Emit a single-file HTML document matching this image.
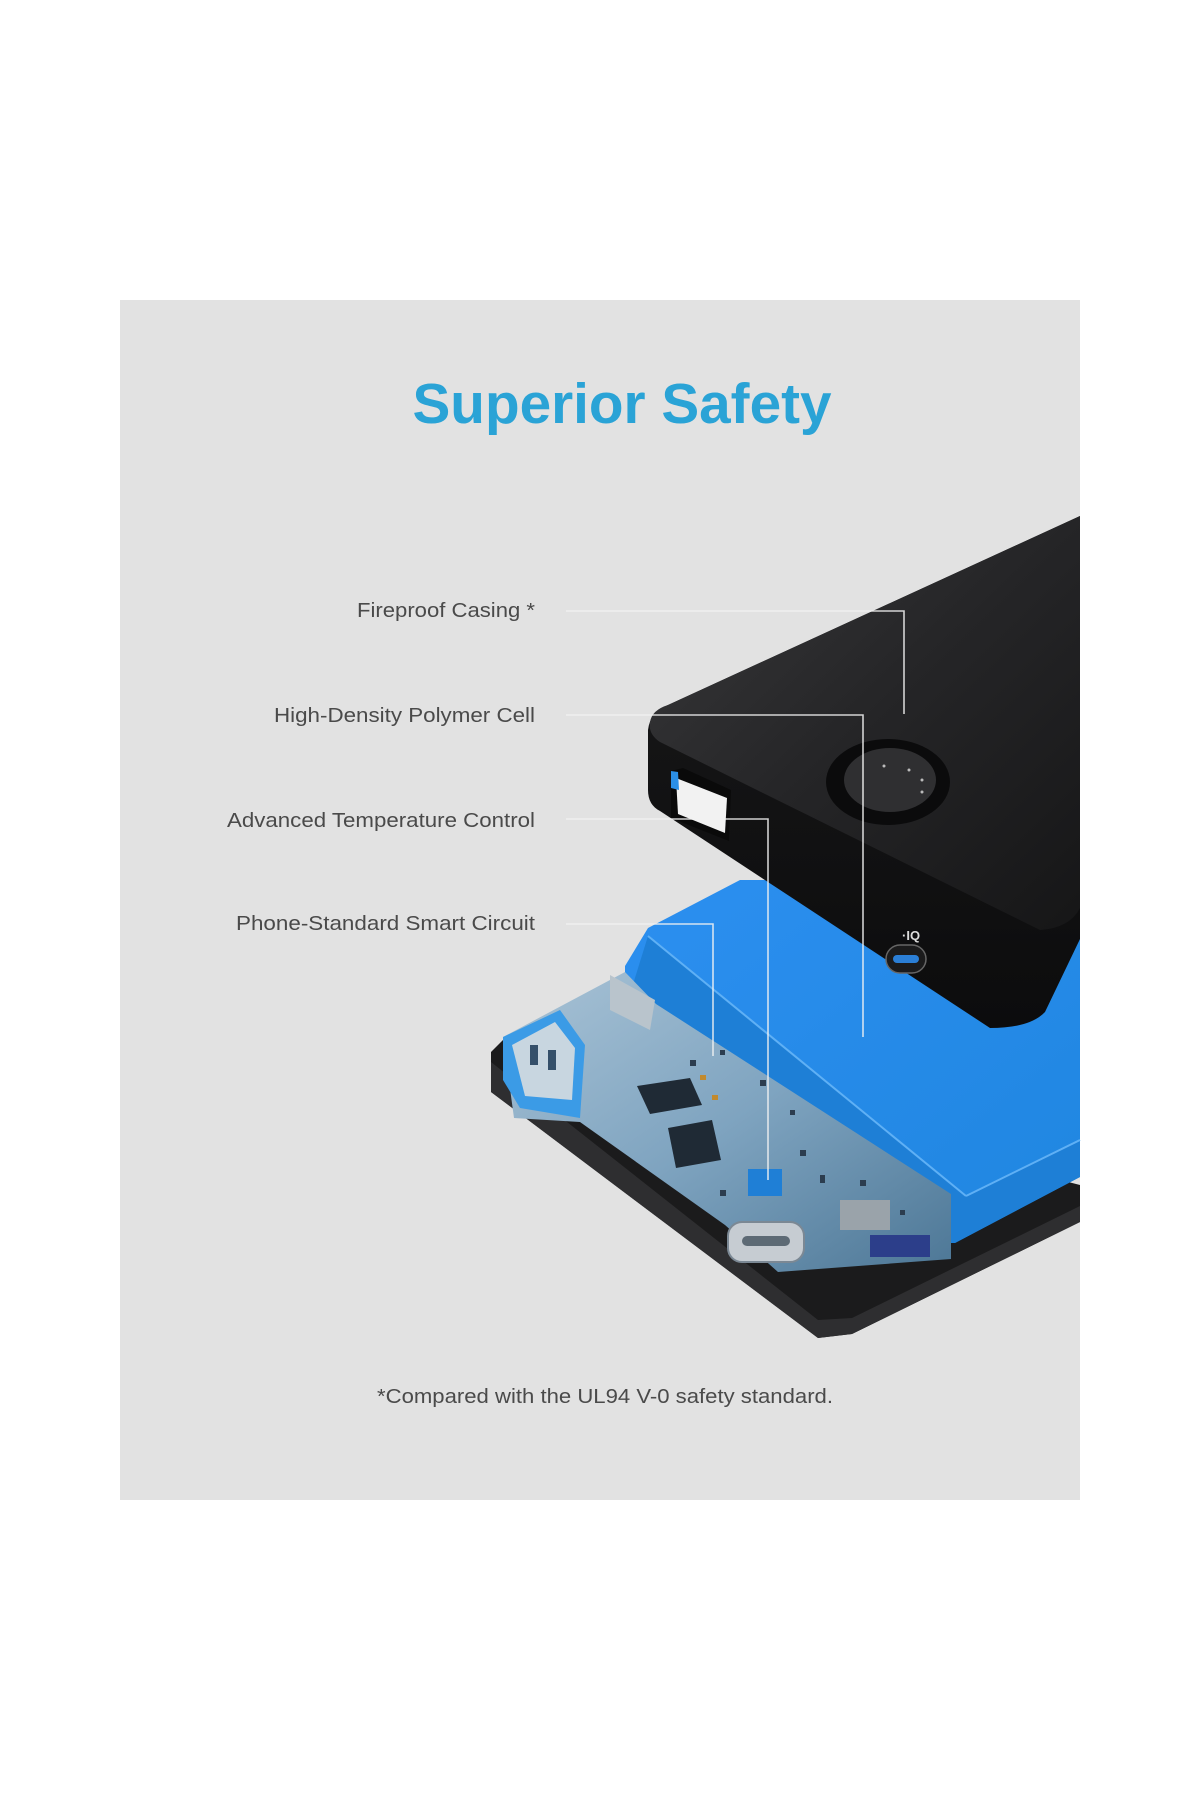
<!DOCTYPE html>
<html><head><meta charset="utf-8"><style>
html,body{margin:0;padding:0;background:#fff;width:1200px;height:1800px;overflow:hidden}
svg{display:block}
</style></head><body>
<svg width="1200" height="1800" viewBox="0 0 1200 1800" xmlns="http://www.w3.org/2000/svg">
<defs>
<linearGradient id="caseTop" x1="0" y1="0" x2="1" y2="1">
<stop offset="0" stop-color="#3a3a3c"/><stop offset="0.5" stop-color="#252527"/><stop offset="1" stop-color="#161617"/>
</linearGradient>
<linearGradient id="caseFront" x1="0" y1="0" x2="0" y2="1">
<stop offset="0" stop-color="#1a1a1b"/><stop offset="1" stop-color="#0c0c0d"/>
</linearGradient>
<linearGradient id="blueTop" x1="0" y1="0" x2="1" y2="1">
<stop offset="0" stop-color="#2c8ff0"/><stop offset="1" stop-color="#1f86e0"/>
</linearGradient>
<linearGradient id="pcb" x1="0" y1="0" x2="1" y2="1">
<stop offset="0" stop-color="#a9c3d6"/><stop offset="0.5" stop-color="#7fa4c0"/><stop offset="1" stop-color="#4d7796"/>
</linearGradient>
</defs>
<rect x="0" y="0" width="1200" height="1800" fill="#fff"/>
<rect x="120" y="300" width="960" height="1200" fill="#e2e2e2"/>

<text x="622" y="423" text-anchor="middle" font-family="Liberation Sans, sans-serif" font-weight="bold" font-size="57" fill="#2aa3d6" textLength="419" lengthAdjust="spacingAndGlyphs">Superior Safety</text>

<!-- base plate -->
<polygon points="491,1052 505,1038 1080,1185 1080,1222 852,1334 818,1338 491,1092" fill="#1b1b1c"/>
<polygon points="491,1062 818,1320 852,1318 1080,1206 1080,1222 852,1334 818,1338 491,1092" fill="#2e2e30"/>

<!-- blue battery -->
<polygon points="648,928 740,880 1080,880 1080,1177 955,1243 625,1010 625,966" fill="url(#blueTop)"/>
<polygon points="648,936 966,1196 1080,1140 1080,1177 955,1243 940,1243 625,1010" fill="#1e7fd6"/>
<line x1="648" y1="936" x2="966" y2="1196" stroke="#5fb0f5" stroke-width="2"/>
<line x1="966" y1="1196" x2="1080" y2="1140" stroke="#5fb0f5" stroke-width="2"/>

<!-- PCB -->
<polygon points="503,1037 625,972 656,1004 951,1194 951,1259 778,1272 725,1225 580,1122 514,1118" fill="url(#pcb)"/>
<polygon points="610,975 655,1000 650,1030 610,1010" fill="#b9c4cc"/>
<!-- USB-A on PCB -->
<polygon points="503,1037 560,1010 585,1045 580,1118 520,1108 503,1080" fill="#3b9be6"/>
<polygon points="512,1045 555,1022 575,1048 572,1100 525,1096" fill="#c8d6e0"/>
<rect x="530" y="1045" width="8" height="20" fill="#35506a"/><rect x="548" y="1050" width="8" height="20" fill="#35506a"/>
<!-- chips -->
<polygon points="637,1086 690,1078 702,1105 650,1114" fill="#1f2a35"/>
<polygon points="668,1128 712,1120 721,1160 676,1168" fill="#1f2a35"/>
<rect x="748" y="1169" width="34" height="27" fill="#1f7fd6"/>
<rect x="840" y="1200" width="50" height="30" fill="#9aa3aa"/>
<rect x="870" y="1235" width="60" height="22" fill="#2c3e8a"/>
<!-- USB-C on PCB -->
<rect x="728" y="1222" width="76" height="40" rx="14" fill="#c6ccd2" stroke="#7b8894" stroke-width="2"/>
<rect x="742" y="1236" width="48" height="10" rx="5" fill="#5d6a75"/>
<g fill="#2c3d4f">
<rect x="690" y="1060" width="6" height="6"/><rect x="720" y="1050" width="5" height="5"/><rect x="760" y="1080" width="6" height="6"/>
<rect x="800" y="1150" width="6" height="6"/><rect x="820" y="1175" width="5" height="8"/><rect x="720" y="1190" width="6" height="6"/>
<rect x="790" y="1110" width="5" height="5"/><rect x="860" y="1180" width="6" height="6"/><rect x="900" y="1210" width="5" height="5"/>
</g>
<rect x="700" y="1075" width="6" height="5" fill="#c28a2d"/><rect x="712" y="1095" width="6" height="5" fill="#c28a2d"/>

<!-- black case -->
<path d="M668,705 L1080,516 L1080,939 L1045,1012 Q1030,1028 990,1028 L660,811 Q648,805 648,790 L648,730 Q650,712 668,705 Z" fill="url(#caseFront)"/>
<path d="M668,705 L1080,516 L1080,908 Q1070,928 1040,930 L660,742 Q648,734 650,722 Q652,710 668,705 Z" fill="url(#caseTop)"/>
<!-- USB-A port on case -->
<polygon points="671,771 683,768 731,790 729,841 671,818" fill="#0a0a0a"/>
<polygon points="676,778 727,798 725,833 678,814" fill="#f2f2f2"/>
<polygon points="671,771 678,772 679,790 671,788" fill="#2b8fe6"/>
<!-- button -->
<ellipse cx="888" cy="782" rx="62" ry="43" fill="#0b0b0c"/>
<ellipse cx="890" cy="780" rx="46" ry="32" fill="#2f2f31"/>
<g fill="#bbb"><circle cx="884" cy="766" r="1.5"/><circle cx="909" cy="770" r="1.5"/><circle cx="922" cy="780" r="1.5"/><circle cx="922" cy="792" r="1.5"/></g>
<!-- USB-C on case -->
<rect x="886" y="945" width="40" height="28" rx="14" fill="#1b1b1c" stroke="#666" stroke-width="1.5"/>
<rect x="893" y="955" width="26" height="8" rx="4" fill="#2b7fd6"/>
<text x="902" y="940" font-family="Liberation Sans, sans-serif" font-weight="bold" font-size="13" fill="#ddd">·IQ</text>

<!-- leader lines -->
<g fill="none" stroke="#f2f2f2" stroke-width="1.6" opacity="0.85">
<polyline points="566,611 904,611 904,714"/>
<polyline points="566,715 863,715 863,1037"/>
<polyline points="566,819 768,819 768,1180"/>
<polyline points="566,924 713,924 713,1056"/>
</g>

<g font-family="Liberation Sans, sans-serif" font-size="20" fill="#4a4a4a" text-anchor="end">
<text x="535" y="617" textLength="178" lengthAdjust="spacingAndGlyphs">Fireproof Casing *</text>
<text x="535" y="722" textLength="261" lengthAdjust="spacingAndGlyphs">High-Density Polymer Cell</text>
<text x="535" y="827" textLength="308" lengthAdjust="spacingAndGlyphs">Advanced Temperature Control</text>
<text x="535" y="930" textLength="299" lengthAdjust="spacingAndGlyphs">Phone-Standard Smart Circuit</text>
</g>
<text x="605" y="1403" text-anchor="middle" font-family="Liberation Sans, sans-serif" font-size="20" fill="#4a4a4a" textLength="456" lengthAdjust="spacingAndGlyphs">*Compared with the UL94 V-0 safety standard.</text>
</svg>
</body></html>
